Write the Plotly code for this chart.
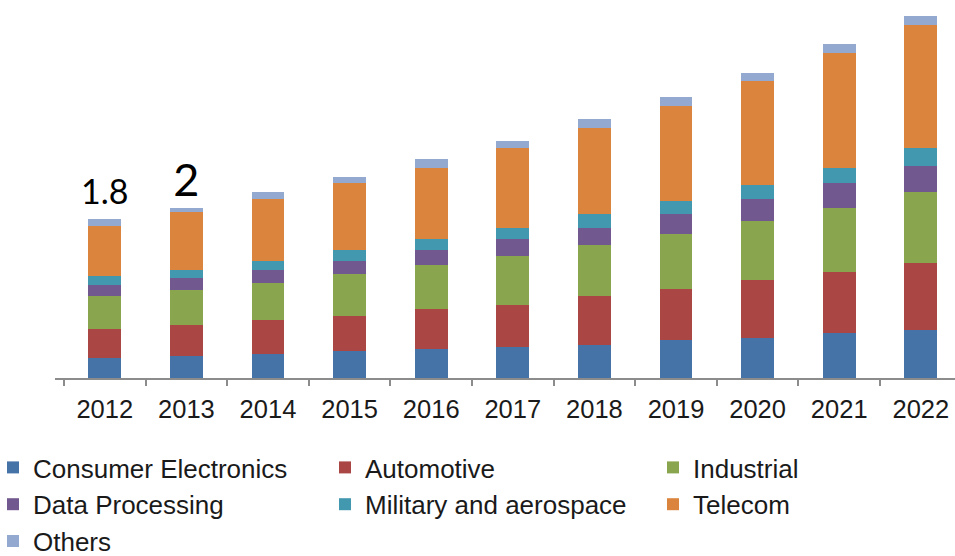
import plotly.graph_objects as go

years = ["2012", "2013", "2014", "2015", "2016", "2017", "2018", "2019", "2020", "2021", "2022"]

consumer_electronics = [0.226, 0.252, 0.275, 0.302, 0.325, 0.348, 0.374, 0.430, 0.453, 0.506, 0.547]
automotive = [0.325, 0.348, 0.377, 0.400, 0.453, 0.479, 0.555, 0.574, 0.653, 0.698, 0.751]
industrial = [0.377, 0.400, 0.422, 0.472, 0.501, 0.551, 0.574, 0.623, 0.676, 0.721, 0.804]
data_processing = [0.121, 0.128, 0.151, 0.155, 0.170, 0.196, 0.196, 0.226, 0.249, 0.280, 0.298]
military_aerospace = [0.102, 0.098, 0.102, 0.125, 0.125, 0.125, 0.155, 0.155, 0.151, 0.173, 0.204]
telecom = [0.574, 0.649, 0.698, 0.751, 0.804, 0.906, 0.977, 1.072, 1.177, 1.298, 1.396]
others = [0.076, 0.045, 0.076, 0.076, 0.102, 0.076, 0.102, 0.105, 0.098, 0.105, 0.102]

label_years = ["2012", "2013"]
label_texts = ["1.8", "2"]

series = [
    ("Consumer Electronics", consumer_electronics, "#4572A7", "legend"),
    ("Automotive", automotive, "#AA4643", "legend2"),
    ("Industrial", industrial, "#89A54E", "legend3"),
    ("Data Processing", data_processing, "#71588F", "legend"),
    ("Military and aerospace", military_aerospace, "#4198AF", "legend2"),
    ("Telecom", telecom, "#DB843D", "legend3"),
    ("Others", others, "#93A9CF", "legend"),
]

fig = go.Figure()
for name, vals, color, lg in series:
    fig.add_trace(go.Bar(
        x=years, y=vals, name=name, legend=lg,
        marker=dict(color=color, line=dict(width=0)),
    ))

totals = [sum(v[i] for _, v, _, _ in series) for i in range(len(years))]
label_y = [totals[years.index(yr)] for yr in label_years]

# invisible markers only used to lift the text labels off the bar tops
fig.add_trace(go.Scatter(
    x=label_years, y=label_y, text=label_texts, mode="markers+text",
    textposition="top center", showlegend=False, hoverinfo="skip",
    cliponaxis=False,
    marker=dict(size=[8, 1], color="rgba(0,0,0,0)", line=dict(width=0)),
    textfont=dict(family="Lato, sans-serif", size=[34, 45], color="#000000"),
))

L, W = 55, 900
H_PLOT = 378
def lx(px):
    return (px - L) / W
def ly(px):
    return 1 - px / H_PLOT

legend_common = dict(
    orientation="v", xanchor="left", yanchor="top",
    bgcolor="rgba(0,0,0,0)", borderwidth=0,
    font=dict(family="Liberation Sans, Arial, sans-serif", size=26, color="#1a1a1a"),
    traceorder="normal",
)

fig.update_layout(
    width=955, height=556,
    margin=dict(l=L, r=0, t=0, b=556 - H_PLOT, autoexpand=False),
    paper_bgcolor="white", plot_bgcolor="white",
    barmode="stack", bargap=0.6,
    showlegend=True,
    legend=dict(x=lx(-7), y=ly(444), **legend_common),
    legend2=dict(x=lx(325), y=ly(444), **legend_common),
    legend3=dict(x=lx(653), y=ly(444), **legend_common),
    xaxis=dict(
        type="category", range=[-0.61, 10.419],
        showline=True, linecolor="#8c8c8c", linewidth=1.5,
        ticks="outside", tickson="boundaries", ticklen=6, tickcolor="#8c8c8c", tickwidth=1.5,
        tickfont=dict(family="Liberation Sans, Arial, sans-serif", size=25.5, color="#1a1a1a"),
        ticklabelstandoff=8,
        showgrid=False, zeroline=False,
    ),
    yaxis=dict(range=[0, H_PLOT * 0.01132], showticklabels=False, ticks="",
               showline=False, showgrid=False, zeroline=False),
)

fig.write_html("out.html", config={"displayModeBar": False},
               post_script="document.body.style.margin='0px';")
